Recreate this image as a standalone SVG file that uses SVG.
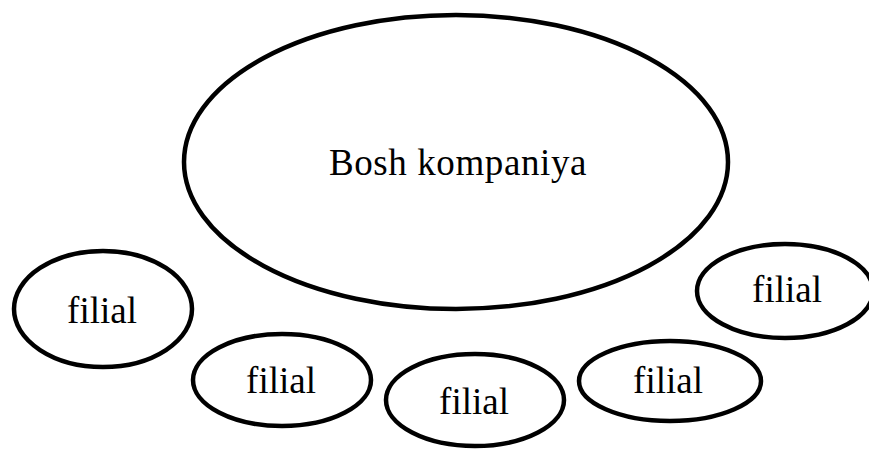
<svg xmlns="http://www.w3.org/2000/svg" width="869" height="450" viewBox="0 0 869 450">
<style>
.n{fill:#fff;stroke:#000;stroke-width:4.5}
.t{font-family:"Liberation Serif","Times New Roman",serif;font-size:37px;fill:#000;text-anchor:middle}
</style>
<rect width="869" height="450" fill="#fff"/>
<g id="connectors"></g>
<g id="bosh"><ellipse class="n" cx="456" cy="162" rx="272" ry="147"/><text class="t" x="458" y="175" letter-spacing="0.6">Bosh kompaniya</text></g>
<g id="filial1"><ellipse class="n" cx="103" cy="309" rx="89" ry="58"/><text class="t" x="102" y="323">filial</text></g>
<g id="filial2"><ellipse class="n" cx="282" cy="380" rx="89" ry="46"/><text class="t" x="281" y="393">filial</text></g>
<g id="filial3"><ellipse class="n" cx="475" cy="400" rx="89" ry="46"/><text class="t" x="474" y="414">filial</text></g>
<g id="filial4"><ellipse class="n" cx="670" cy="381" rx="91" ry="40"/><text class="t" x="668" y="393">filial</text></g>
<g id="filial5"><ellipse class="n" cx="785" cy="291" rx="88" ry="47"/><text class="t" x="787" y="302">filial</text></g>
</svg>
